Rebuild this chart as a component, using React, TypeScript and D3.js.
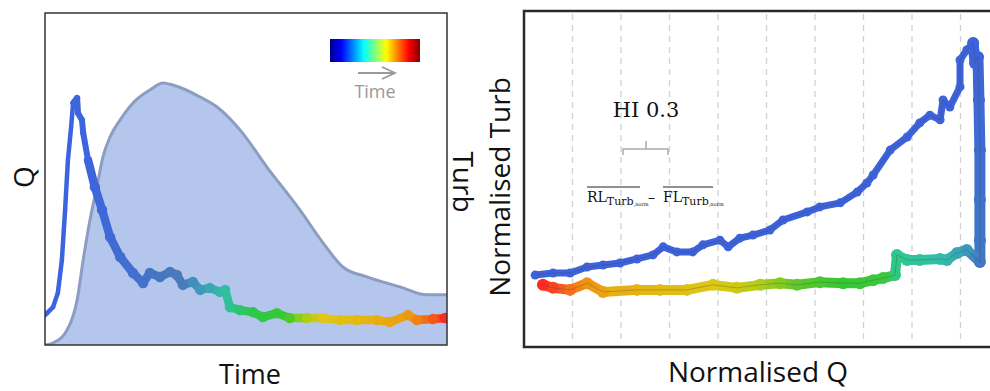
import React from "react";
import * as d3 from "d3";

// left panel: event hydrograph (shaded) and turbidity trace, time in % of event
const hydroTime = [0, 2, 5.5, 8, 9.5, 11.2, 12.9, 14.4, 16.2, 18.7, 21.9, 26.1, 29.4, 31.8, 38.6, 42.8, 48.5, 55.2, 63.4, 69.2, 74.1, 80.1, 88.3, 95, 100];
const hydroQ = [0, 0.6, 4.5, 13.6, 25.6, 37.7, 47.6, 56.6, 62.7, 67.8, 72.9, 76.8, 78.9, 78.3, 74.7, 71.7, 64.8, 53.6, 40.7, 30.7, 23.5, 20.5, 17.5, 15.1, 15.1];

const turbTime = [0, 0.5, 2.0, 3.2, 4.2, 5.0, 5.7, 6.5, 7.0, 8.0, 8.2, 9.2, 9.5, 10.7, 12.4, 14.2, 16.2, 18.7, 21.9, 24.4, 26.1, 28.6, 31.1, 32.8, 34.3, 36.8, 38.6, 41.0, 43.5, 44.8, 46.0, 48.5, 51.7, 54.2, 57.7, 60.9, 65.2, 69.2, 73.4, 77.6, 82.6, 85.8, 90.3, 92.5, 96.5, 99.5];
const turbLevel = [9.0, 9.6, 11.4, 15.7, 25.6, 40.7, 55.7, 65.7, 72.9, 74.4, 69.9, 67.8, 63.9, 55.7, 47.6, 40.7, 32.5, 26.5, 21.7, 18.7, 21.7, 20.5, 22.0, 21.1, 18.1, 19.0, 16.6, 17.2, 16.0, 16.6, 11.4, 10.5, 9.9, 8.4, 9.6, 8.1, 8.1, 8.1, 7.5, 7.5, 7.5, 6.9, 9.0, 7.5, 7.8, 8.1];

// right panel: hysteresis loop, rising limb then falling limb
const riseQ = [0.23, 0.6, 0.95, 1.3, 1.63, 1.98, 2.33, 2.66, 2.87, 3.15, 3.48, 3.69, 4.04, 4.21, 4.45, 4.72, 5.07, 5.34, 5.84, 6.1, 6.52, 6.87, 7.07, 7.2, 7.55, 7.9, 8.16, 8.37, 8.58, 8.64, 8.78, 8.99, 8.99, 9.13, 9.26];
const riseTurb = [21.4, 22.0, 22.0, 23.8, 24.4, 25.0, 26.2, 27.4, 29.8, 28.3, 28.3, 30.4, 31.8, 29.8, 32.4, 33.3, 34.8, 37.8, 40.2, 41.7, 42.9, 46.1, 48.8, 51.2, 58.6, 62.5, 66.7, 69.0, 67.6, 73.5, 71.4, 77.4, 85.4, 88.4, 90.5];
const fallQ = [9.26, 9.3, 9.36, 9.38, 9.4, 9.4, 9.4, 9.4, 9.13, 8.93, 8.72, 8.58, 8.16, 7.9, 7.69, 7.65, 7.4, 7.2, 6.93, 6.58, 6.1, 5.63, 5.28, 4.87, 4.39, 3.9, 3.36, 2.8, 2.33, 1.63, 1.3, 0.95, 0.6, 0.39];
const fallTurb = [90.5, 84.5, 86.3, 73.5, 58.6, 43.8, 31.8, 25.3, 28.9, 28.0, 25.9, 26.2, 25.9, 25.9, 27.4, 21.4, 20.5, 19.9, 19.0, 19.0, 19.3, 18.5, 19.0, 18.5, 17.6, 18.5, 17.0, 17.0, 17.0, 16.4, 19.0, 17.0, 17.6, 18.5];

const gridQ = [1, 2, 3, 4, 5, 6, 7, 8, 9];
const jetStops = ["#00008f", "#0000ff", "#0080ff", "#00ffff", "#80ff80", "#ffff00", "#ff8000", "#ff0000", "#800000"];

const sans = "'Open Sans', 'DejaVu Sans', sans-serif";
const serif = "'DejaVu Serif', serif";

const timeColor = d3
  .scaleLinear<string>()
  .domain([0, 12, 26, 34, 40, 45, 50, 60, 64, 69, 80, 90, 96, 100])
  .range(["#3b62e2", "#3d66dc", "#4474c6", "#4a7ab8", "#3aa2bc", "#30c0a0", "#2cc850", "#38c830", "#9ed018", "#e0c814", "#e6b412", "#ec9c10", "#f46018", "#ff2222"])
  .interpolate(d3.interpolateRgb);

const fallColor = d3
  .scaleLinear<string>()
  .domain([9.4, 9.1, 8.6, 7.7, 7.5, 6.5, 5.6, 4.8, 4.0, 2.0, 1.2, 0.7, 0.3])
  .range(["#3f7ac4", "#3a9cbc", "#33bca8", "#2ec890", "#3ac840", "#34c832", "#60c82a", "#b8cc14", "#dcc814", "#e8b012", "#f09010", "#f85020", "#ff2020"])
  .interpolate(d3.interpolateRgb);

const descentColor = d3.scaleLinear<string>().domain([90, 25]).range(["#3c62dc", "#4078c4"]);

export default function App() {
  const xL = d3.scaleLinear().domain([0, 100]).range([45, 447]);
  const yL = d3.scaleLinear().domain([0, 100]).range([345, 13]);
  const xR = d3.scaleLinear().domain([0, 10]).range([524, 1009]);
  const yR = d3.scaleLinear().domain([0, 100]).range([347, 11]);

  const area = d3
    .area<number>()
    .x((d) => xL(d))
    .y0(yL(0))
    .y1((d, i) => yL(hydroQ[i]))
    .curve(d3.curveMonotoneX);
  const areaTop = d3
    .line<number>()
    .x((d) => xL(d))
    .y((d, i) => yL(hydroQ[i]))
    .curve(d3.curveMonotoneX);

  const leftWidth = (t: number) => (t < 7.5 ? 4.5 : t < 11 ? 6 : 8.5);

  const leftSegs = turbTime.slice(0, -1).map((t, i) => {
    const tm = (t + turbTime[i + 1]) / 2;
    return (
      <line
        key={"l" + i}
        x1={xL(t)}
        y1={yL(turbLevel[i])}
        x2={xL(turbTime[i + 1])}
        y2={yL(turbLevel[i + 1])}
        stroke={timeColor(tm)}
        strokeWidth={leftWidth(tm)}
        strokeLinecap="round"
      />
    );
  });
  const leftDots = turbTime
    .map((t, i) => ({ t, v: turbLevel[i] }))
    .filter((d) => d.t > 10)
    .map((d, i) => <circle key={"ld" + i} cx={xL(d.t)} cy={yL(d.v)} r={leftWidth(d.t) / 2 + 1} fill={timeColor(d.t)} />);

  const riseSegs = riseQ.slice(0, -1).map((q, i) => (
    <line
      key={"r" + i}
      x1={xR(q)}
      y1={yR(riseTurb[i])}
      x2={xR(riseQ[i + 1])}
      y2={yR(riseTurb[i + 1])}
      stroke="#3c62dc"
      strokeWidth={7}
      strokeLinecap="round"
    />
  ));
  const riseDots = riseQ.map((q, i) => <circle key={"rd" + i} cx={xR(q)} cy={yR(riseTurb[i])} r={4.5} fill="#3c62dc" />);

  const isDescent = (i: number) => fallQ[i] >= 9.25;
  const fallSegs = fallQ.slice(0, -1).map((q, i) => {
    const q2 = fallQ[i + 1];
    const descent = isDescent(i) && isDescent(i + 1);
    const col = descent ? descentColor((fallTurb[i] + fallTurb[i + 1]) / 2) : fallColor((q + q2) / 2);
    return (
      <line
        key={"f" + i}
        x1={xR(q)}
        y1={yR(fallTurb[i])}
        x2={xR(q2)}
        y2={yR(fallTurb[i + 1])}
        stroke={col}
        strokeWidth={descent ? 11 : 10}
        strokeLinecap="round"
      />
    );
  });
  const fallDots = fallQ.map((q, i) => (
    <circle
      key={"fd" + i}
      cx={xR(q)}
      cy={yR(fallTurb[i])}
      r={6}
      fill={isDescent(i) ? descentColor(fallTurb[i]) : fallColor(q)}
    />
  ));

  const thin = d3
    .line<number>()
    .x((d) => xR(d))
    .y((d, i) => yR(riseTurb[i]));
  const thinFall = d3
    .line<number>()
    .x((d) => xR(d))
    .y((d, i) => yR(fallTurb[i]));

  return (
    <svg width={990} height={391} style={{ position: "absolute", left: 0, top: 0, background: "#fff" }}>
      <defs>
        <linearGradient id="jet" x1="0" x2="1" y1="0" y2="0">
          {jetStops.map((c, i) => (
            <stop key={i} offset={i / (jetStops.length - 1)} stopColor={c} />
          ))}
        </linearGradient>
        <clipPath id="leftClip">
          <rect x={45} y={13} width={402} height={332} />
        </clipPath>
        <clipPath id="rightClip">
          <rect x={524} y={11} width={480} height={336} />
        </clipPath>
      </defs>

      {/* left panel */}
      <g clipPath="url(#leftClip)">
        <path d={area(hydroTime) ?? ""} fill="#b5c6ec" />
        <path d={areaTop(hydroTime) ?? ""} fill="none" stroke="#8b9dc2" strokeWidth={3} />
        {leftSegs}
        {leftDots}
      </g>
      <rect x={45} y={13} width={402} height={332} fill="none" stroke="#333" strokeWidth={1.5} />

      <rect x={330} y={39} width={90} height={23} fill="url(#jet)" />
      <line x1={358} y1={73} x2={394} y2={73} stroke="#999" strokeWidth={1.8} />
      <polyline points="382,67 395,73 382,79" fill="none" stroke="#999" strokeWidth={1.8} />
      <text x={375} y={98} textAnchor="middle" fontFamily={sans} fontSize={18} fill="#999">
        Time
      </text>

      <text x={250} y={384} textAnchor="middle" fontFamily={sans} fontSize={27} fill="#111">
        Time
      </text>
      <text transform="translate(34,177) rotate(-90)" textAnchor="middle" fontFamily={sans} fontSize={28} fill="#111">
        Q
      </text>
      <text transform="translate(453,182) rotate(90)" textAnchor="middle" fontFamily={sans} fontSize={28} fill="#111">
        Turb
      </text>

      {/* right panel */}
      {gridQ.map((g) => (
        <line key={g} x1={xR(g)} x2={xR(g)} y1={14} y2={344} stroke="#d2d2d2" strokeWidth={1.3} strokeDasharray="6,5" />
      ))}
      <g clipPath="url(#rightClip)">
        {riseSegs}
        {riseDots}
        {fallSegs}
        {fallDots}
        <path d={thin(riseQ) ?? ""} fill="none" stroke="#444" strokeOpacity={0.35} strokeWidth={1} />
        <path d={thinFall(fallQ) ?? ""} fill="none" stroke="#444" strokeOpacity={0.3} strokeWidth={1} />
      </g>
      <rect x={524} y={11} width={500} height={336} fill="none" stroke="#2a2a2a" strokeWidth={2.5} />

      <text x={646} y={117} textAnchor="middle" fontFamily={serif} fontSize={21} fill="#111">
        HI 0.3
      </text>
      <path d="M623,155 L623,149 L668,149 L668,155 M646,149 L646,141" fill="none" stroke="#aaa" strokeWidth={1.5} />
      <line x1={587} y1={187} x2={640} y2={187} stroke="#222" strokeWidth={1} />
      <line x1={663} y1={187} x2={713} y2={187} stroke="#222" strokeWidth={1} />
      <text x={587} y={202} fontFamily={serif} fontSize={14} fill="#111">
        RL
        <tspan fontSize={11} dy={3}>Turb</tspan>
        <tspan fontSize={5} dy={1}>,norm</tspan>
      </text>
      <text x={648} y={202} fontFamily={serif} fontSize={14} fill="#111">
        –
      </text>
      <text x={663} y={202} fontFamily={serif} fontSize={14} fill="#111">
        FL
        <tspan fontSize={11} dy={3}>Turb</tspan>
        <tspan fontSize={5} dy={1}>,norm</tspan>
      </text>

      <text x={758} y={382} textAnchor="middle" fontFamily={sans} fontSize={28} fill="#111">
        Normalised Q
      </text>
      <text transform="translate(510,187) rotate(-90)" textAnchor="middle" fontFamily={sans} fontSize={28} fill="#111">
        Normalised Turb
      </text>
    </svg>
  );
}
